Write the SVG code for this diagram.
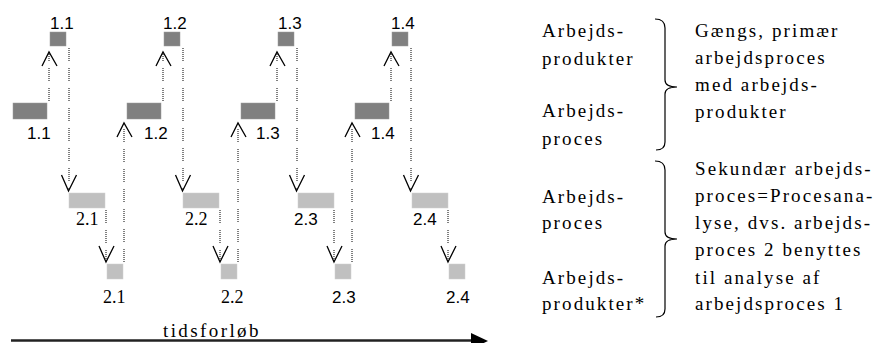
<svg xmlns="http://www.w3.org/2000/svg" width="886" height="343" viewBox="0 0 886 343">
<style>
.dk{fill:#808080;stroke:#9a9a9a;stroke-width:0.5}
.lt{fill:#c0c0c0;stroke:#d0d0d0;stroke-width:0.5}
.num{font-family:"Liberation Sans",Arial,sans-serif;font-size:17px;fill:#000}
.nums{font-family:"Liberation Serif","Times New Roman",serif;font-size:18px;fill:#000}
.dot{stroke:#000;stroke-width:1;fill:none;stroke-dasharray:1 1 1 1 1 1 1 1 1 1 1 1 1 7}
.head{stroke:#000;stroke-width:1.3;fill:none}
.txt{font-family:"Liberation Serif","Times New Roman",serif;font-size:19px;letter-spacing:2.1px;fill:#000}
.brace{stroke:#000;stroke-width:1.2;fill:none}
</style>
<defs>
<path id="up" class="head" d="M-7,14 L0,0 L8,14"/>
<path id="dn" class="head" d="M-7,-16 L0,0 L8,-16"/>
</defs>

<g id="connectors">
  <line class="dot" x1="49" y1="101" x2="49" y2="53"/>
  <line class="dot" x1="163" y1="101" x2="163" y2="53"/>
  <line class="dot" x1="277" y1="101" x2="277" y2="53"/>
  <line class="dot" x1="391" y1="101" x2="391" y2="53"/>
  <use href="#up" x="49" y="52"/>
  <use href="#up" x="163" y="52"/>
  <use href="#up" x="277" y="52"/>
  <use href="#up" x="391" y="52"/>
  <line class="dot" x1="69" y1="48" x2="69" y2="190"/>
  <line class="dot" x1="183" y1="48" x2="183" y2="190"/>
  <line class="dot" x1="297" y1="48" x2="297" y2="190"/>
  <line class="dot" x1="411" y1="48" x2="411" y2="190"/>
  <use href="#dn" x="68.5" y="191"/>
  <use href="#dn" x="182.5" y="191"/>
  <use href="#dn" x="296.5" y="191"/>
  <use href="#dn" x="410.5" y="191"/>
  <line class="dot" x1="106" y1="210" x2="106" y2="261"/>
  <line class="dot" x1="220" y1="210" x2="220" y2="261"/>
  <line class="dot" x1="334" y1="210" x2="334" y2="261"/>
  <line class="dot" x1="448" y1="210" x2="448" y2="261"/>
  <use href="#dn" x="106" y="262"/>
  <use href="#dn" x="220" y="262"/>
  <use href="#dn" x="334" y="262"/>
  <use href="#dn" x="448" y="262"/>
  <line class="dot" x1="124" y1="262" x2="124" y2="124"/>
  <line class="dot" x1="238" y1="262" x2="238" y2="124"/>
  <line class="dot" x1="352" y1="262" x2="352" y2="124"/>
  <use href="#up" x="124" y="123"/>
  <use href="#up" x="238" y="123"/>
  <use href="#up" x="352" y="123"/>
  <line x1="11" y1="340.5" x2="474" y2="340.5" stroke="#222" stroke-width="2.5"/>
  <polygon points="471,333 488,341 471,349" fill="#000"/>
</g>

<g id="n1-1">
  <rect class="dk" x="50" y="32" width="16" height="14"/>
  <text class="num" x="50" y="29">1.1</text>
  <rect class="dk" x="13" y="103" width="34" height="16"/>
  <text class="num" x="27" y="139">1.1</text>
</g>
<g id="n1-2">
  <rect class="dk" x="164" y="32" width="16" height="14"/>
  <text class="num" x="163" y="29">1.2</text>
  <rect class="dk" x="127" y="103" width="34" height="16"/>
  <text class="num" x="144" y="139">1.2</text>
</g>
<g id="n1-3">
  <rect class="dk" x="278" y="32" width="16" height="14"/>
  <text class="num" x="278" y="29">1.3</text>
  <rect class="dk" x="241" y="103" width="34" height="16"/>
  <text class="num" x="256" y="139">1.3</text>
</g>
<g id="n1-4">
  <rect class="dk" x="392" y="32" width="16" height="14"/>
  <text class="num" x="391" y="29">1.4</text>
  <rect class="dk" x="355" y="103" width="34" height="16"/>
  <text class="num" x="371" y="139">1.4</text>
</g>

<g id="n2-1">
  <rect class="lt" x="69" y="193" width="36" height="15"/>
  <text class="nums" x="76" y="225">2.1</text>
  <rect class="lt" x="107" y="264" width="16" height="15"/>
  <text class="nums" x="103" y="303">2.1</text>
</g>
<g id="n2-2">
  <rect class="lt" x="183" y="193" width="36" height="15"/>
  <text class="nums" x="185" y="225">2.2</text>
  <rect class="lt" x="221" y="264" width="16" height="15"/>
  <text class="nums" x="221" y="303">2.2</text>
</g>
<g id="n2-3">
  <rect class="lt" x="298" y="193" width="36" height="15"/>
  <text class="num" x="294" y="225">2.3</text>
  <rect class="lt" x="335" y="264" width="16" height="15"/>
  <text class="num" x="332" y="303">2.3</text>
</g>
<g id="n2-4">
  <rect class="lt" x="412" y="193" width="36" height="15"/>
  <text class="num" x="413" y="225">2.4</text>
  <rect class="lt" x="449" y="264" width="16" height="15"/>
  <text class="num" x="446" y="303">2.4</text>
</g>

<g id="axis-label">
  <text class="txt" x="163" y="337" style="letter-spacing:2.4px">tidsforløb</text>
</g>

<g id="legend-left">
  <text class="txt" x="542" y="37">Arbejds-</text>
  <text class="txt" x="542" y="65">produkter</text>
  <text class="txt" x="542" y="117">Arbejds-</text>
  <text class="txt" x="542" y="145">proces</text>
  <text class="txt" x="542" y="203">Arbejds-</text>
  <text class="txt" x="542" y="229">proces</text>
  <text class="txt" x="542" y="284">Arbejds-</text>
  <text class="txt" x="542" y="310">produkter*</text>
</g>

<g id="braces">
  <path class="brace" d="M655,19 Q665,19 665,28 L665,80 Q665,87 677,87 Q665,87 665,94 L665,142 Q665,150 656,150"/>
  <path class="brace" d="M655,161 Q665,161 665,170 L665,232 Q665,239 677,239 Q665,239 665,246 L665,309 Q665,317 656,317"/>
</g>

<g id="legend-right">
  <text class="txt" x="695" y="37">Gængs, primær</text>
  <text class="txt" x="695" y="64">arbejdsproces</text>
  <text class="txt" x="695" y="91">med arbejds-</text>
  <text class="txt" x="695" y="118">produkter</text>
  <text class="txt" x="695" y="175">Sekundær arbejds-</text>
  <text class="txt" x="695" y="202">proces=Procesana-</text>
  <text class="txt" x="695" y="229">lyse, dvs. arbejds-</text>
  <text class="txt" x="695" y="256">proces 2 benyttes</text>
  <text class="txt" x="695" y="284">til analyse af</text>
  <text class="txt" x="695" y="310">arbejdsproces 1</text>
</g>
</svg>
